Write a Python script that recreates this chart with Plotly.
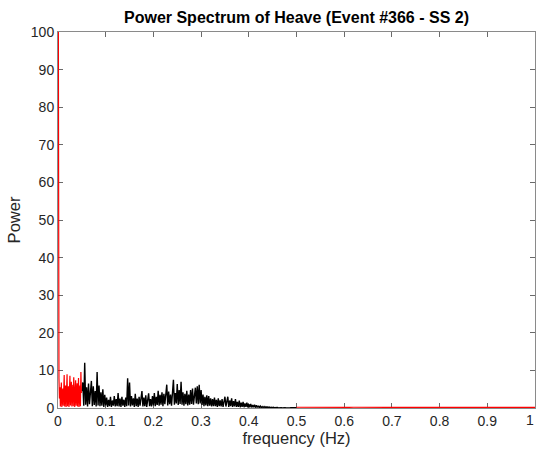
import plotly.graph_objects as go

# ---- data ----
DF_RED = 0.001       # frequency resolution used for the low red band (Hz)
DF_FINE = 0.002      # frequency resolution of the retained band (Hz)
DF_HIGH = 0.01       # spacing used for the flat high-frequency part

# red, low-frequency part: 0.000 .. 0.049 Hz
red_low_start = 0.0
red_low_power = [
    160.0, 24.0, 8.0, 2.5, 5.5, 0.4, 3.8, 6.8, 0.3, 4.5,
    5.2, 0.6, 3.2, 8.8, 0.4, 5.0, 6.0, 0.3, 4.2, 9.0,
    0.5, 3.5, 5.8, 0.3, 6.5, 8.6, 0.7, 4.0, 7.0, 0.4,
    3.6, 6.2, 0.5, 8.2, 5.4, 0.3, 4.8, 7.4, 0.6, 3.4,
    6.6, 0.4, 5.0, 8.0, 0.3, 4.4, 6.0, 0.5, 9.6, 4.0,
]

# black, retained band: 0.050 .. 0.500 Hz
black_start = 0.05
black_power = [
    4.5, 6.8, 0.6, 12.0, 0.9, 5.5, 0.4, 6.5, 1.0, 4.0,
    7.2, 0.5, 5.8, 0.8, 4.5, 0.4, 9.6, 0.7, 6.0, 0.5,
    4.2, 0.6, 5.0, 0.3, 3.5, 0.7, 2.8, 0.3, 2.2, 0.5,
    3.0, 0.3, 2.0, 0.6, 3.2, 0.4, 2.4, 0.5, 4.0, 0.4,
    2.5, 0.3, 3.0, 0.6, 2.2, 0.3, 2.8, 0.5, 7.9, 0.7,
    6.8, 0.4, 3.2, 0.7, 2.6, 0.3, 3.8, 0.5, 2.5, 0.3,
    3.0, 0.6, 2.2, 4.5, 0.4, 2.8, 0.5, 3.4, 0.3, 2.6,
    3.9, 0.5, 2.4, 0.4, 3.2, 0.7, 4.0, 0.5, 3.0, 0.8,
    4.6, 0.6, 3.5, 0.9, 4.2, 0.5, 3.8, 1.0, 5.0, 6.2,
    0.7, 4.4, 1.0, 3.6, 0.6, 5.0, 7.5, 0.9, 4.0, 1.2,
    6.4, 0.8, 4.8, 1.1, 7.0, 0.9, 4.2, 0.6, 3.8, 1.0,
    4.6, 0.7, 3.6, 0.9, 4.8, 1.1, 5.2, 0.9, 4.4, 5.4,
    1.2, 5.8, 1.0, 6.2, 1.2, 4.8, 0.8, 3.6, 0.5, 3.0,
    0.7, 3.4, 0.5, 3.2, 0.6, 2.6, 0.4, 2.4, 0.5, 2.8,
    0.5, 2.2, 0.3, 2.6, 0.5, 2.0, 0.4, 2.4, 0.3, 1.8,
    3.0, 0.4, 2.2, 3.0, 0.3, 2.0, 0.5, 2.6, 0.3, 1.8,
    0.4, 2.4, 0.3, 1.6, 0.3, 2.0, 0.2, 1.4, 0.3, 1.6,
    0.2, 1.2, 0.3, 1.4, 0.2, 1.0, 0.2, 1.1, 0.15, 0.8,
    0.2, 0.9, 0.1, 0.7, 0.15, 0.6, 0.1, 0.5, 0.08, 0.4,
    0.1, 0.4, 0.08, 0.35, 0.06, 0.3, 0.08, 0.25, 0.05, 0.2,
    0.08, 0.18, 0.05, 0.15, 0.06, 0.14, 0.04, 0.12, 0.05, 0.1,
    0.04, 0.12, 0.05, 0.1, 0.04, 0.09, 0.05, 0.1, 0.04, 0.08,
    0.05, 0.08, 0.04, 0.07, 0.05, 0.2,
]

# red, high-frequency part: 0.50 .. 1.00 Hz (essentially zero)
red_high_start = 0.5
red_high_power = [
    0.2, 0.18, 0.2, 0.17, 0.2, 0.18, 0.19, 0.17, 0.2, 0.18,
    0.17, 0.19, 0.2, 0.17, 0.18, 0.17, 0.19, 0.2, 0.17, 0.18,
    0.17, 0.19, 0.17, 0.2, 0.18, 0.17, 0.19, 0.17, 0.18, 0.17,
    0.19, 0.17, 0.2, 0.17, 0.18, 0.17, 0.19, 0.17, 0.18, 0.17,
    0.19, 0.17, 0.18, 0.17, 0.19, 0.17, 0.18, 0.17, 0.19, 0.17,
    0.18,
]

x_ticks = [0, 0.1, 0.2, 0.3, 0.4, 0.5, 0.6, 0.7, 0.8, 0.9, 1]
x_tick_labels = ["0", "0.1", "0.2", "0.3", "0.4", "0.5", "0.6", "0.7", "0.8", "0.9", "1"]
y_ticks = [0, 10, 20, 30, 40, 50, 60, 70, 80, 90, 100]

red_low_f = [round(red_low_start + i * DF_RED, 4) for i in range(len(red_low_power))]
black_f = [round(black_start + i * DF_FINE, 4) for i in range(len(black_power))]
red_high_f = [round(red_high_start + i * DF_HIGH, 4) for i in range(len(red_high_power))]

FONT = "Liberation Sans, Arial"
TICK_SIZE = 14

fig = go.Figure()
fig.add_trace(go.Scatter(x=black_f, y=black_power, mode="lines",
                         line=dict(color="black", width=1.4), showlegend=False))
fig.add_trace(go.Scatter(x=red_low_f, y=red_low_power, mode="lines",
                         line=dict(color="#ff0000", width=1.2), showlegend=False))
fig.add_trace(go.Scatter(x=red_high_f, y=red_high_power, mode="lines",
                         line=dict(color="#ff0000", width=1.2), showlegend=False))

axis_common = dict(
    showgrid=False, zeroline=False, showline=True, linecolor="#8a8a8a", linewidth=1,
    mirror="ticks", ticks="inside", ticklen=5, tickcolor="#6a6a6a",
    tickfont=dict(family=FONT, size=TICK_SIZE, color="#262626"),
    layer="below traces", automargin=False,
)

# the last x tick label sits on the page edge; draw it as text, kept inside the page
last_label = x_tick_labels[-1]
x_tick_text = x_tick_labels[:-1] + [""]

fig.update_layout(
    width=536, height=454,
    margin=dict(l=58, r=1, t=32, b=46, autoexpand=False),
    paper_bgcolor="white", plot_bgcolor="white",
    title=dict(text="<b>Power Spectrum of Heave (Event #366 - SS 2)</b>",
               x=(58 + 535) / 2 / 536, xanchor="center", y=1 - 17 / 454, yanchor="middle",
               font=dict(family=FONT, size=16, color="black")),
    xaxis=dict(range=[0, 1], tickvals=x_ticks, ticktext=x_tick_text,
               title=dict(text="frequency (Hz)", standoff=2,
                          font=dict(family=FONT, size=16.5, color="#262626")),
               **axis_common),
    yaxis=dict(range=[0, 100], tickvals=y_ticks,
               title=dict(text="Power", standoff=6,
                          font=dict(family=FONT, size=16.5, color="#262626")),
               **axis_common),
    annotations=[dict(x=1, xref="paper", xanchor="right", y=0, yref="paper",
                      text=last_label, showarrow=False, yanchor="top", yshift=-3,
                      borderpad=0,
                      font=dict(family=FONT, size=TICK_SIZE, color="#262626"))],
)

fig.write_html("out.html", config={"displayModeBar": False},
               post_script="document.body.style.margin='0';document.body.style.overflow='hidden';")
